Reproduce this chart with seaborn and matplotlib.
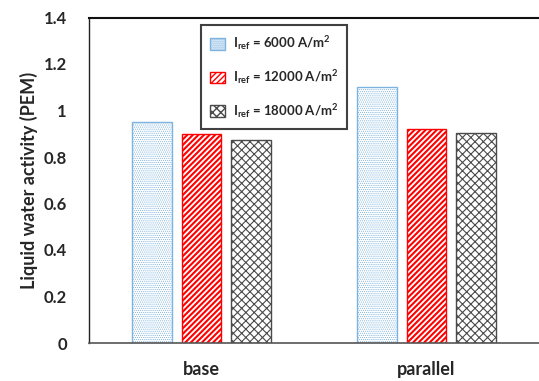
import matplotlib
matplotlib.use("Agg")
import matplotlib.pyplot as plt
import seaborn as sns
import pandas as pd
from matplotlib.patches import Patch

# Data
designs = ["base", "parallel"]
currents = ["6000", "12000", "18000"]
activity_6000 = [0.95, 1.10]
activity_12000 = [0.90, 0.92]
activity_18000 = [0.875, 0.905]

rows = []
for i, d in enumerate(designs):
    for cur, vals in zip(currents, [activity_6000, activity_12000, activity_18000]):
        rows.append({"design": d, "current": cur, "activity": vals[i]})
df = pd.DataFrame(rows)

sns.set_theme(style="white")
plt.rcParams["font.family"] = ["Lato", "DejaVu Sans"]
plt.rcParams["font.weight"] = "bold"
plt.rcParams["mathtext.fontset"] = "custom"
plt.rcParams["mathtext.rm"] = "Lato:bold"
plt.rcParams["mathtext.bf"] = "Lato:bold"
plt.rcParams["mathtext.it"] = "Lato:bold"
plt.rcParams["hatch.linewidth"] = 1.0

edge_colors = ["#7EB3E0", "#FF0000", "#4A4A4A"]
hatches = ["........", "//////", "xxxx"]
hatch_widths = [0.5, 1.5, 0.8]


def style_patch(p, j):
    p.set_facecolor("white")
    p.set_edgecolor(edge_colors[j])
    p.set_hatch(hatches[j])
    if hasattr(p, "set_hatch_linewidth"):
        p.set_hatch_linewidth(hatch_widths[j])


fig = plt.figure(figsize=(5.39, 3.81), dpi=100)
ax = fig.add_axes([89 / 539, 1 - 343 / 381, 1 - 89 / 539, (343 - 17.5) / 381])

sns.barplot(data=df, x="design", y="activity", hue="current", order=designs,
            hue_order=currents, width=0.66, gap=0.2,
            palette=["white"] * 3, ax=ax, legend=False)

for j, cur in enumerate(currents):
    for bar in ax.containers[j]:
        style_patch(bar, j)
        bar.set_linewidth(1.0)

ax.set_xlim(-0.5, 1.5)
ax.set_ylim(0, 1.4)
ax.set_yticks([0, 0.2, 0.4, 0.6, 0.8, 1.0, 1.2, 1.4])
ax.set_yticklabels(["0", "0.2", "0.4", "0.6", "0.8", "1", "1.2", "1.4"])
ax.tick_params(axis="y", length=0, pad=16, labelsize=12)
ax.tick_params(axis="x", length=0, pad=13, labelsize=13)
for lbl in ax.get_xticklabels() + ax.get_yticklabels():
    lbl.set_fontweight("bold")
ax.set_xlabel("")
ax.set_ylabel("Liquid water activity (PEM)", fontsize=13, fontweight="bold", labelpad=4)

ax.spines["right"].set_visible(False)
ax.spines["top"].set_color("#111111")
ax.spines["top"].set_linewidth(1.5)
ax.spines["left"].set_color("#222222")
ax.spines["left"].set_linewidth(1.0)
ax.spines["bottom"].set_color("#555555")
ax.spines["bottom"].set_linewidth(1.2)

handles = []
for j, cur in enumerate(currents):
    h = Patch(label=r"$\mathregular{I_{ref}}$ = " + cur + r" A/m$\mathregular{^2}$")
    style_patch(h, j)
    handles.append(h)
leg = ax.legend(handles=handles, loc="upper left",
                bbox_to_anchor=((201 - 89) / 450, 1 - (25 - 17.5) / 325.5),
                frameon=True, fancybox=False, fontsize=9.5, handlelength=1.1,
                handleheight=1.0, labelspacing=1.2, borderpad=0.7,
                handletextpad=0.6, borderaxespad=0)
leg.get_frame().set_edgecolor("#111111")
leg.get_frame().set_linewidth(1.5)
for t in leg.get_texts():
    t.set_fontweight("bold")

fig.savefig("out.png", dpi=100)
